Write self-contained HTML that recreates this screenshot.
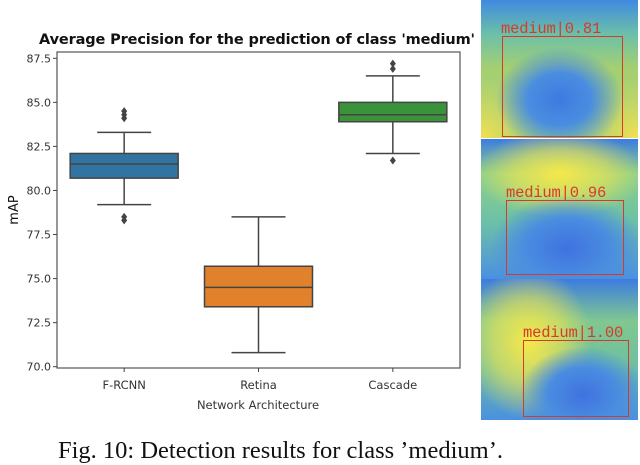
<!DOCTYPE html>
<html><head><meta charset="utf-8"><style>
body{margin:0;width:640px;height:453px;overflow:hidden;background:#fff;position:relative;font-family:"DejaVu Sans","Liberation Sans",sans-serif}
.panel{position:absolute;left:481px;width:157px;overflow:hidden}
.bbox{position:absolute;border:1.5px solid #d83a2a;box-sizing:border-box}
.lbl{position:absolute;color:#d83a2a;font-family:"Liberation Mono",monospace;font-size:15.5px;white-space:nowrap;line-height:1;letter-spacing:-0.2px}
</style></head><body>
<svg id="chart" width="480" height="425" style="position:absolute;left:0;top:0"></svg>

<div class="panel" style="top:0;height:138px;background:radial-gradient(ellipse 45% 42% at 50% 72%,#3f7ae0 0%,#4a8de0 45%,rgba(80,170,200,0) 90%),radial-gradient(circle at 0% 100%,#f5e050 0%,rgba(245,224,80,0) 30%),radial-gradient(circle at 100% 100%,#f5e050 0%,rgba(245,224,80,0) 30%),linear-gradient(#3f8ae0,#6cc0a8 25%,#a6d070 50%,#8ccc84)">
 <div class="lbl" style="left:20px;top:22px">medium|0.81</div>
 <div class="bbox" style="left:21px;top:36px;width:121px;height:101px"></div>
</div>
<div class="panel" style="top:139px;height:140px;background:radial-gradient(ellipse 55% 42% at 55% 78%,#3f72e0 0%,#4a8de0 50%,rgba(80,170,200,0) 90%),radial-gradient(ellipse 60% 35% at 50% 25%,#f5e84a 0%,rgba(240,230,80,0.6) 50%,rgba(240,230,80,0) 90%),linear-gradient(#3c7ce0,#8cd08a 25%,#6cc0a8 60%,#4a90e0)">
 <div class="lbl" style="left:25px;top:47px">medium|0.96</div>
 <div class="bbox" style="left:25px;top:61px;width:118px;height:75px"></div>
</div>
<div class="panel" style="top:279px;height:141px;background:radial-gradient(ellipse 45% 38% at 65% 82%,#3f72e0 0%,#4a8de0 50%,rgba(80,170,200,0) 90%),radial-gradient(ellipse 45% 60% at 30% 45%,#f5e84a 0%,rgba(240,230,80,0.6) 50%,rgba(240,230,80,0) 90%),linear-gradient(#3c7ce0,#80c890 30%,#70c0a0 60%,#4a90e0)">
 <div class="lbl" style="left:42px;top:47px">medium|1.00</div>
 <div class="bbox" style="left:42px;top:61px;width:106px;height:77px"></div>
</div>

<div style="position:absolute;left:58px;top:436px;font-family:'Liberation Serif',serif;font-size:24.5px;line-height:1.2;white-space:nowrap;color:#111">Fig. 10: Detection results for class ’medium’.</div>

<script>
const categories=["F-RCNN","Retina","Cascade"];
const q1=[80.7,73.4,83.9];
const med=[81.5,74.5,84.3];
const q3=[82.1,75.7,85.0];
const whiskLo=[79.2,70.8,82.1];
const whiskHi=[83.3,78.5,86.5];
const outliers=[[84.1,84.3,84.5,78.3,78.5],[],[81.7,86.9,87.2]];
const colors=["#3274a1","#e1812c","#3a923a"];
const yTicks=[70.0,72.5,75.0,77.5,80.0,82.5,85.0,87.5];

const svg=document.getElementById('chart');
const NS='http://www.w3.org/2000/svg';
const L=57,R=460,T=52,B=368;
const y=v=>366.7-(v-70)*(366.7-58.3)/17.5;
const x=i=>L+(R-L)*(i+0.5)/categories.length;
function mk(tag,at,txt){const e=document.createElementNS(NS,tag);for(const k in at)e.setAttribute(k,at[k]);if(txt!==undefined)e.textContent=txt;svg.appendChild(e);return e;}

let e=mk('text',{x:257,y:44,'text-anchor':'middle','font-size':'14.5','font-weight':'bold',fill:'#111',textLength:436},"Average Precision for the prediction of class 'medium'");


e=mk('rect',{x:L,y:T,width:R-L,height:B-T,fill:'none',stroke:'#555','stroke-width':1.2});



yTicks.forEach(t=>{
 let l=mk('line',{x1:L-4,x2:L,y1:y(t),y2:y(t),stroke:'#444'});
 
 
 let tx=mk('text',{x:L-6,y:y(t)+4,'text-anchor':'end','font-size':'11',fill:'#333'},t.toFixed(1));
 
 
});
e=mk('text',{x:18,y:210,'text-anchor':'middle','font-size':'13',fill:'#111',transform:'rotate(-90 18 210)'},'mAP');


e=mk('text',{x:258,y:409,'text-anchor':'middle','font-size':'11.5',fill:'#333'},'Network Architecture');



const bw=108,cw=54;
categories.forEach((c,i)=>{
 const cx=x(i);
 let l=mk('line',{x1:cx,x2:cx,y1:B,y2:B+4,stroke:'#444'});
 
 
 let tx=mk('text',{x:cx,y:389,'text-anchor':'middle','font-size':'11.5',fill:'#333'},c);
 
 
 let w=mk('line',{x1:cx,x2:cx,y1:y(whiskLo[i]),y2:y(whiskHi[i]),stroke:'#444','stroke-width':1.5});
 
 
 [whiskLo[i],whiskHi[i]].forEach(v=>{
  let cap=mk('line',{x1:cx-cw/2,x2:cx+cw/2,y1:y(v),y2:y(v),stroke:'#444','stroke-width':1.5});
  
  
 });
 let b=mk('rect',{x:cx-bw/2,y:y(q3[i]),width:bw,height:y(q1[i])-y(q3[i]),fill:colors[i],stroke:'#444','stroke-width':1.5});
 
 
 let m=mk('line',{x1:cx-bw/2,x2:cx+bw/2,y1:y(med[i]),y2:y(med[i]),stroke:'#444','stroke-width':1.5});
 
 
 outliers[i].forEach(v=>{
  let o=mk('path',{d:`M${cx},${y(v)-4}L${cx+3},${y(v)}L${cx},${y(v)+4}L${cx-3},${y(v)}Z`,fill:'#444'});
  
  
 });
});
</script>
</body></html>
